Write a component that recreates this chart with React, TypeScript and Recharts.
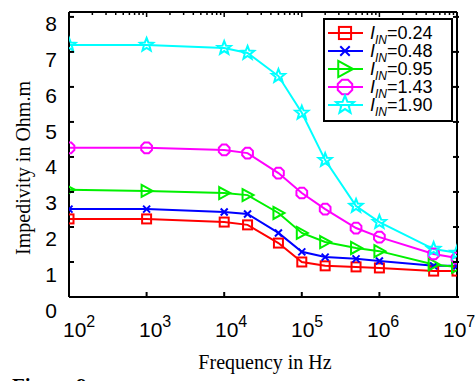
import { LineChart, Line, XAxis, YAxis, Legend } from 'recharts';

const freqs = [100, 1000, 10000, 20000, 50000, 100000, 200000, 500000, 1000000, 5000000, 10000000];
const iin024 = [2.23, 2.23, 2.14, 2.06, 1.54, 1.0, 0.89, 0.86, 0.83, 0.74, 0.74];
const iin048 = [2.51, 2.51, 2.43, 2.37, 1.83, 1.29, 1.14, 1.09, 1.03, 0.89, 0.89];
const iin095 = [3.06, 3.03, 2.97, 2.91, 2.4, 1.83, 1.57, 1.4, 1.31, 0.93, 0.86];
const iin143 = [4.26, 4.26, 4.2, 4.11, 3.54, 2.97, 2.51, 1.97, 1.71, 1.23, 1.11];
const iin190 = [7.2, 7.2, 7.11, 6.97, 6.31, 5.26, 3.91, 2.6, 2.14, 1.37, 1.26];

const xTicks = [100, 1000, 10000, 100000, 1000000, 10000000];
const yTicks = [0, 1, 2, 3, 4, 5, 6, 7, 8];
const seriesLabels = ['0.24', '0.48', '0.95', '1.43', '1.90'];

const minorTicks: number[] = [];
[100, 1000, 10000, 100000, 1000000].forEach((d) => {
    for (let m = 1; m < 10; m++) minorTicks.push(d * m);
});
minorTicks.push(10000000);

const data = freqs.map((f, i) => ({
    f,
    a: iin024[i],
    b: iin048[i],
    c: iin095[i],
    d: iin143[i],
    e: iin190[i],
}));

type Shape = 'square' | 'cross' | 'triangle' | 'octagon' | 'star';

const series: { key: string; color: string; shape: Shape }[] = [
    { key: 'a', color: '#ff0000', shape: 'square' },
    { key: 'b', color: '#0000ff', shape: 'cross' },
    { key: 'c', color: '#00f000', shape: 'triangle' },
    { key: 'd', color: '#ff00ff', shape: 'octagon' },
    { key: 'e', color: '#00ffff', shape: 'star' },
];

const sans = 'Liberation Sans, Arial, sans-serif';
const serif = 'Liberation Serif, Times New Roman, serif';

const Marker = ({ cx, cy, shape, color, s = 1 }: { cx: number; cy: number; shape: Shape; color: string; s?: number }) => {
    const common = { fill: 'none', stroke: color, strokeWidth: 2 };
    switch (shape) {
        case 'square':
            return <rect x={cx - 4.5 * s} y={cy - 4.5 * s} width={9 * s} height={9 * s} {...common} />;
        case 'cross':
            return (
                <path
                    d={`M${cx - 3.5 * s},${cy - 3.5 * s}L${cx + 3.5 * s},${cy + 3.5 * s}M${cx - 3.5 * s},${cy + 3.5 * s}L${cx + 3.5 * s},${cy - 3.5 * s}`}
                    {...common}
                />
            );
        case 'triangle':
            return <polygon points={`${cx - 5 * s},${cy - 6 * s} ${cx + 6 * s},${cy} ${cx - 5 * s},${cy + 6 * s}`} {...common} />;
        case 'octagon': {
            const pts = [];
            for (let k = 0; k < 8; k++) {
                const a = (Math.PI / 4) * k + Math.PI / 8;
                pts.push(`${cx + 5.8 * s * Math.cos(a)},${cy + 5.8 * s * Math.sin(a)}`);
            }
            return <polygon points={pts.join(' ')} {...common} />;
        }
        default: {
            const pts = [];
            for (let k = 0; k < 10; k++) {
                const r = (k % 2 === 0 ? 7 : 3) * s;
                const a = -Math.PI / 2 + (Math.PI / 5) * k;
                pts.push(`${cx + r * Math.cos(a)},${cy + r * Math.sin(a)}`);
            }
            return <polygon points={pts.join(' ')} {...common} />;
        }
    }
};

const BottomTick = ({ x, y, payload }: any) => {
    const k = Math.round(Math.log10(payload.value));
    return (
        <g>
            <line x1={x} y1={y} x2={x} y2={y - 5} stroke="#000" strokeWidth={2} />
            <text x={x - 6 - 1.6 * (k - 2)} y={y + 40} fontSize={21} fontFamily={sans} fill="#000">
                10
                <tspan dy={-10} fontSize={16}>{k}</tspan>
            </text>
        </g>
    );
};

const TopTick = ({ x, y, payload }: any) => {
    const v = payload.value;
    const major = Math.abs(Math.log10(v) - Math.round(Math.log10(v))) < 1e-6;
    return <line x1={x} y1={y} x2={x} y2={y + (major ? 5 : 3)} stroke="#000" strokeWidth={1.5} />;
};

const LeftTick = ({ x, y, payload }: any) => {
    const v = payload.value;
    return (
        <g>
            <line x1={x} y1={y} x2={x + 5} y2={y} stroke="#000" strokeWidth={2} />
            <text x={x - 12} y={y + 20.5 - 0.75 * v} textAnchor="end" fontSize={21} fontFamily={sans} fill="#000">
                {v}
            </text>
        </g>
    );
};

const RightTick = ({ x, y }: any) => <line x1={x - 4} y1={y} x2={x + 2} y2={y} stroke="#000" strokeWidth={2} />;

const LegendBox = () => (
    <svg width={130} height={104} style={{ display: 'block' }}>
        <rect x={1} y={1} width={128} height={102} fill="#fff" stroke="#000" strokeWidth={2} />
        {series.map((s, i) => {
            const cy = 15 + i * 18;
            return (
                <g key={s.key}>
                    <line x1={5} y1={cy} x2={40} y2={cy} stroke={s.color} strokeWidth={2} />
                    <Marker cx={22} cy={cy} shape={s.shape} color={s.color} s={1.35} />
                    <text x={47} y={cy + 6} fontSize={18} fontFamily={sans} fill="#000">
                        <tspan fontStyle="italic">I</tspan>
                        <tspan fontStyle="italic" fontSize={12} dy={5}>IN</tspan>
                        <tspan dy={-5}>={seriesLabels[i]}</tspan>
                    </text>
                </g>
            );
        })}
    </svg>
);

export default function App() {
    return (
        <div style={{ position: 'absolute', left: 0, top: 0, width: 475, height: 381, background: '#fff' }}>
            <LineChart width={475} height={381} data={data} margin={{ top: 7, right: 13, bottom: 54, left: 39 }}>
                <XAxis
                    dataKey="f"
                    type="number"
                    scale="log"
                    domain={[100, 10000000]}
                    ticks={xTicks}
                    interval={0}
                    height={30}
                    tickSize={0}
                    tickMargin={0}
                    tickLine={false}
                    tick={<BottomTick />}
                    axisLine={{ stroke: '#000', strokeWidth: 2 }}
                    allowDataOverflow
                />
                <XAxis
                    xAxisId="top"
                    orientation="top"
                    dataKey="f"
                    type="number"
                    scale="log"
                    domain={[100, 10000000]}
                    ticks={minorTicks}
                    interval={0}
                    height={5}
                    tickSize={0}
                    tickMargin={0}
                    tickLine={false}
                    tick={<TopTick />}
                    axisLine={{ stroke: '#000', strokeWidth: 2 }}
                    allowDataOverflow
                />
                <YAxis
                    type="number"
                    domain={[0, 8.14]}
                    ticks={yTicks}
                    interval={0}
                    width={30}
                    tickSize={0}
                    tickMargin={0}
                    tickLine={false}
                    tick={<LeftTick />}
                    axisLine={{ stroke: '#000', strokeWidth: 2 }}
                    allowDataOverflow
                />
                <YAxis
                    yAxisId="right"
                    orientation="right"
                    type="number"
                    domain={[0, 8.14]}
                    ticks={yTicks}
                    interval={0}
                    width={5}
                    tickSize={0}
                    tickMargin={0}
                    tickLine={false}
                    tick={<RightTick />}
                    axisLine={{ stroke: '#000', strokeWidth: 2 }}
                    allowDataOverflow
                />
                {series.map((s) => (
                    <Line
                        key={s.key}
                        dataKey={s.key}
                        type="linear"
                        stroke={s.color}
                        strokeWidth={2}
                        isAnimationActive={false}
                        dot={(p: any) => <Marker key={`${s.key}-${p.index}`} cx={p.cx} cy={p.cy} shape={s.shape} color={s.color} />}
                        activeDot={false}
                    />
                ))}
                <Legend
                    layout="vertical"
                    align="center"
                    verticalAlign="middle"
                    content={() => <LegendBox />}
                    wrapperStyle={{ left: 323, top: 18, width: 130, height: 104 }}
                />
                <text x={265} y={369} textAnchor="middle" fontSize={20} fontFamily={serif} fill="#000">
                    Frequency in Hz
                </text>
                <text
                    x={30}
                    y={168}
                    transform="rotate(-90 30 168)"
                    textAnchor="middle"
                    fontSize={20}
                    fontFamily={serif}
                    fill="#000"
                >
                    Impedivity in Ohm.m
                </text>
                <text x={12} y={393} fontSize={21} fontWeight="bold" fontFamily={serif} fill="#000">
                    Figure 9
                </text>
            </LineChart>
        </div>
    );
}
